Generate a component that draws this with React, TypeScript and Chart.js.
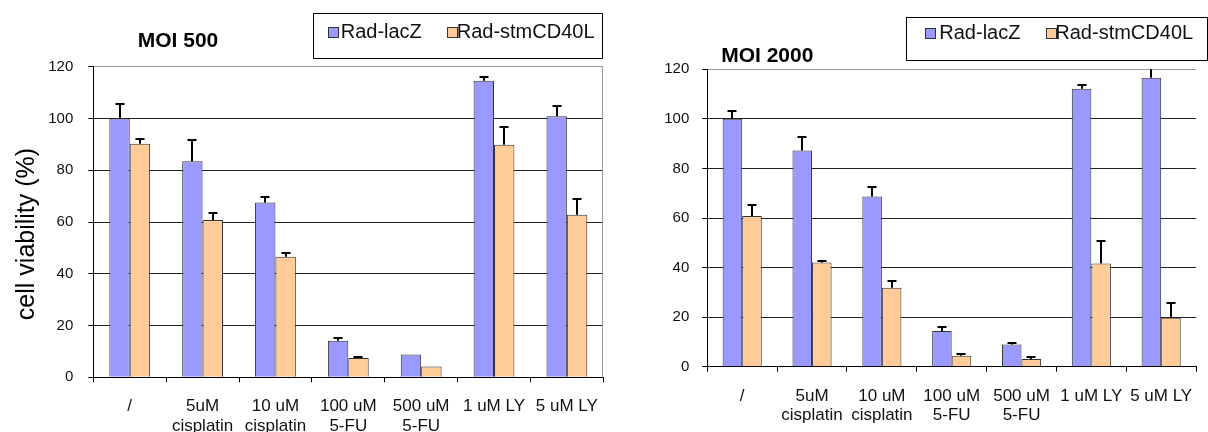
import React, { useEffect, useRef } from "react";
import { Chart, registerables } from "chart.js";

Chart.register(...registerables);

// ---------- data ----------
const categories: (string | string[])[] = [
  "/",
  ["5uM", "cisplatin"],
  ["10 uM", "cisplatin"],
  ["100 uM", "5-FU"],
  ["500 uM", "5-FU"],
  "1 uM LY",
  "5 uM LY",
];
const seriesNames = ["Rad-lacZ", "Rad-stmCD40L"];
const seriesColors = ["#9999FF", "#FFCC99"];
const yTicks = [0, 20, 40, 60, 80, 100, 120];

const moi500LacZ = [100, 83.5, 67.5, 14.1, 8.8, 114.6, 100.9];
const moi500LacZErr = [5.5, 8.2, 2.1, 1.2, 0, 1.3, 4];
const moi500Stm = [90.2, 60.8, 46.6, 7.5, 4.2, 89.8, 62.8];
const moi500StmErr = [1.7, 2.6, 1.6, 0.3, 0, 6.9, 6.2];

const moi2000LacZ = [100, 87.2, 68.7, 14.4, 9, 112.2, 116.6];
const moi2000LacZErr = [3.2, 5.4, 3.9, 1.7, 0.7, 1.6, 4];
const moi2000Stm = [60.8, 42, 31.9, 4.4, 3.1, 41.6, 19.8];
const moi2000StmErr = [4.4, 0.8, 2.7, 0.6, 0.7, 9.2, 6];

const FONT = "Arial, 'Liberation Sans', sans-serif";

type PanelCfg = {
  title: string;
  titleX: number;
  titleBaseline: number;
  legend: { x: number; y: number; w: number; h: number; markers: number[]; texts: number[]; baseline: number };
  lacZ: number[];
  lacZErr: number[];
  stm: number[];
  stmErr: number[];
  yAxisWidth: number;
  xAxisHeight: number;
  padTop: number;
  padRight: number;
  yTitle: string | null;
  yTitleX: number;
  yTitleY: number;
  yTickPad: number;
  xTickPad: number;
  xLineHeight: number;
  drawRightBorder: boolean;
};

function makeDecor(cfg: PanelCfg) {
  return {
    id: "decor",
    afterDatasetsDraw(chart: any) {
      const ctx = chart.ctx as CanvasRenderingContext2D;
      const area = chart.chartArea;
      const y = chart.scales.y;
      const errs = [cfg.lacZErr, cfg.stmErr];
      ctx.save();
      ctx.beginPath();
      ctx.rect(area.left, area.top, area.right - area.left, area.bottom - area.top);
      ctx.clip();
      ctx.strokeStyle = "#000";
      ctx.lineWidth = 2;
      errs.forEach((arr, di) => {
        const meta = chart.getDatasetMeta(di);
        meta.data.forEach((el: any, i: number) => {
          const e = arr[i];
          if (!e) return;
          const v = chart.data.datasets[di].data[i] as number;
          const py = Math.round(y.getPixelForValue(v + e));
          const x = Math.round(el.x);
          ctx.beginPath();
          ctx.moveTo(x, el.y);
          ctx.lineTo(x, py);
          ctx.moveTo(x - 4.5, py);
          ctx.lineTo(x + 4.5, py);
          ctx.stroke();
        });
      });
      ctx.restore();
    },
    afterDraw(chart: any) {
      const ctx = chart.ctx as CanvasRenderingContext2D;
      const area = chart.chartArea;
      ctx.save();
      // plot area right border
      if (cfg.drawRightBorder) {
        ctx.strokeStyle = "#999";
        ctx.lineWidth = 1;
        ctx.beginPath();
        ctx.moveTo(Math.round(area.right) - 0.5, area.top);
        ctx.lineTo(Math.round(area.right) - 0.5, area.bottom);
        ctx.stroke();
      }
      // y axis title
      if (cfg.yTitle) {
        ctx.save();
        ctx.translate(cfg.yTitleX, cfg.yTitleY);
        ctx.rotate(-Math.PI / 2);
        ctx.fillStyle = "#000";
        ctx.font = `25px ${FONT}`;
        ctx.textAlign = "center";
        ctx.textBaseline = "middle";
        ctx.fillText(cfg.yTitle, 0, 0);
        ctx.restore();
      }
      // title
      ctx.fillStyle = "#000";
      ctx.font = `bold 21px ${FONT}`;
      ctx.textAlign = "center";
      ctx.textBaseline = "alphabetic";
      ctx.fillText(cfg.title, cfg.titleX, cfg.titleBaseline);
      // legend
      const L = cfg.legend;
      ctx.fillStyle = "#fff";
      ctx.fillRect(L.x, L.y, L.w, L.h);
      ctx.strokeStyle = "#000";
      ctx.lineWidth = 1;
      ctx.strokeRect(Math.round(L.x) + 0.5, Math.round(L.y) + 0.5, Math.round(L.w), Math.round(L.h));
      ctx.font = `20px ${FONT}`;
      ctx.textAlign = "left";
      chart.data.datasets.forEach((ds: any, i: number) => {
        const mx = Math.round(L.markers[i]);
        const my = Math.round(L.baseline - 11);
        ctx.fillStyle = ds.backgroundColor;
        ctx.fillRect(mx, my, 10, 10);
        ctx.strokeStyle = "#333";
        ctx.strokeRect(mx + 0.5, my + 0.5, 10, 10);
        ctx.fillStyle = "#111";
        ctx.fillText(ds.label, L.texts[i], L.baseline);
      });
      ctx.restore();
    },
  };
}

function Panel({ cfg, width, left }: { cfg: PanelCfg; width: number; left: number }) {
  const ref = useRef<HTMLCanvasElement | null>(null);
  useEffect(() => {
    if (!ref.current) return;
    const chart = new Chart(ref.current, {
      type: "bar",
      data: {
        labels: categories as any,
        datasets: [
          {
            label: seriesNames[0],
            data: cfg.lacZ,
            backgroundColor: seriesColors[0],
            borderColor: "#333",
            borderWidth: 1,
          },
          {
            label: seriesNames[1],
            data: cfg.stm,
            backgroundColor: seriesColors[1],
            borderColor: "#333",
            borderWidth: 1,
          },
        ],
      },
      options: {
        responsive: false,
        animation: false,
        devicePixelRatio: 1,
        layout: { padding: { top: cfg.padTop, right: cfg.padRight, left: 0, bottom: 0 } },
        datasets: { bar: { categoryPercentage: 0.56, barPercentage: 1 } },
        plugins: {
          legend: { display: false },
          title: { display: false },
          tooltip: { enabled: false },
        },
        scales: {
          x: {
            offset: true,
            grid: {
              offset: true,
              drawOnChartArea: false,
              drawTicks: true,
              tickLength: 5,
              tickColor: "#000",
            },
            border: { color: "#000", width: 1 },
            ticks: {
              autoSkip: false,
              maxRotation: 0,
              minRotation: 0,
              padding: cfg.xTickPad,
              color: "#111",
              font: { family: FONT, size: 17, lineHeight: cfg.xLineHeight + "px" } as any,
            },
            afterFit: (s: any) => {
              s.height = cfg.xAxisHeight;
            },
          },
          y: {
            min: 0,
            max: 120,
            afterBuildTicks: (s: any) => {
              s.ticks = yTicks.map((v) => ({ value: v }));
            },
            grid: {
              color: (c: any) => (c.tick && c.tick.value === 120 ? "#999" : "#222"),
              drawTicks: true,
              tickLength: 5,
              tickColor: "#000",
            },
            border: { color: "#000", width: 1 },
            ticks: {
              padding: cfg.yTickPad,
              color: "#111",
              font: { family: FONT, size: 15 },
            },
            title: { display: false },
            afterFit: (s: any) => {
              s.width = cfg.yAxisWidth;
            },
          },
        },
      },
      plugins: [makeDecor(cfg) as any],
    });
    return () => chart.destroy();
  }, [cfg]);
  return (
    <canvas
      ref={ref}
      width={width}
      height={432}
      style={{ position: "absolute", left, top: 0, width, height: 432, display: "block" }}
    />
  );
}

const leftCfg: PanelCfg = {
  title: "MOI 500",
  titleX: 178,
  titleBaseline: 46.5,
  legend: { x: 312.7, y: 13.3, w: 289, h: 45.4, markers: [328.3, 446.7], texts: [340.7, 456.7], baseline: 37.7 },
  lacZ: moi500LacZ,
  lacZErr: moi500LacZErr,
  stm: moi500Stm,
  stmErr: moi500StmErr,
  yAxisWidth: 93.3,
  xAxisHeight: 54.7,
  padTop: 66.7,
  padRight: 11.7,
  yTitle: "cell viability (%)",
  yTitleX: 27,
  yTitleY: 234,
  yTickPad: 15,
  xTickPad: 13.3,
  xLineHeight: 20.7,
  drawRightBorder: true,
};

const rightCfg: PanelCfg = {
  title: "MOI 2000",
  titleX: 152.3,
  titleBaseline: 61.5,
  legend: { x: 291, y: 16.7, w: 301, h: 43.3, markers: [310, 430.7], texts: [324.3, 440.3], baseline: 39.3 },
  lacZ: moi2000LacZ,
  lacZErr: moi2000LacZErr,
  stm: moi2000Stm,
  stmErr: moi2000StmErr,
  yAxisWidth: 92.3,
  xAxisHeight: 65.3,
  padTop: 69.3,
  padRight: 0,
  yTitle: null,
  yTitleX: 0,
  yTitleY: 0,
  yTickPad: 13,
  xTickPad: 15.8,
  xLineHeight: 18.3,
  drawRightBorder: false,
};

export default function App() {
  return (
    <div style={{ position: "fixed", left: 0, top: 0, width: 1208, height: 432, background: "#fff", overflow: "hidden" }}>
      <Panel cfg={leftCfg} width={615} left={0} />
      <Panel cfg={rightCfg} width={593} left={615} />
    </div>
  );
}
